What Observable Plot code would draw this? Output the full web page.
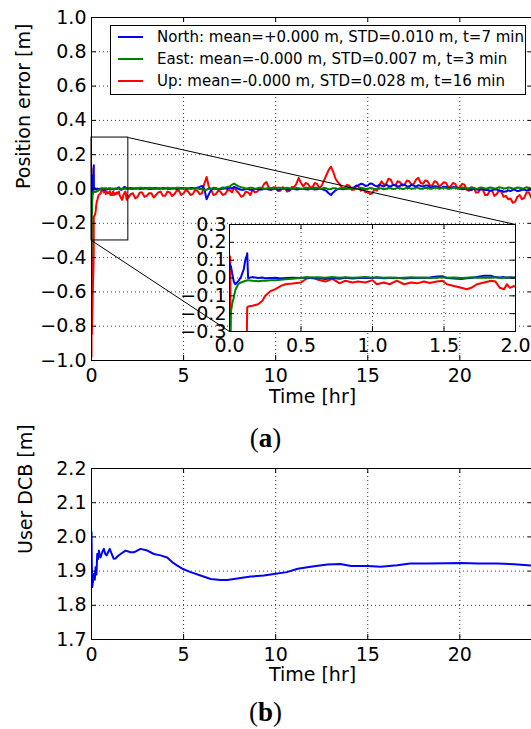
<!DOCTYPE html>
<html><head><meta charset="utf-8">
<script src="https://cdn.jsdelivr.net/npm/d3@7"></script>
<script src="https://cdn.jsdelivr.net/npm/@observablehq/plot@0.6"></script>
<style>
html,body{margin:0;padding:0;background:#fff;overflow:hidden;}
#root{position:relative;width:531px;height:729px;overflow:hidden;background:#fff;font-family:"DejaVu Sans",sans-serif;}
.abs{position:absolute;}
.abs svg{max-width:none !important;}
</style></head><body><div id="root"></div>
<script>
// ---------------- DATA ----------------
// Time [hr] shared by North / East / Up (fine near start, 0.125 hr afterwards)
const times = [
  0, 0.005, 0.01, 0.02, 0.03, 0.04, 0.06, 0.08, 0.10, 0.11,
  0.12, 0.124, 0.13, 0.16, 0.2, 0.23, 0.25, 0.29, 0.32, 0.36,
  0.39, 0.44, 0.5, 0.54, 0.58, 0.62, 0.67, 0.72, 0.77, 0.81,
  0.86, 0.9, 0.95, 1.0, 1.03, 1.08, 1.12, 1.17, 1.22, 1.27,
  1.31, 1.36, 1.4, 1.45, 1.49, 1.52, 1.57, 1.62, 1.66, 1.69,
  1.73, 1.78, 1.83, 1.86, 1.89, 1.92, 1.94, 1.96, 1.99,
  2.0, 2.125, 2.25, 2.375, 2.5, 2.625, 2.75, 2.875, 3.0, 3.125, 3.25, 3.375, 3.5, 3.625, 3.75, 3.875,
  4.0, 4.125, 4.25, 4.375, 4.5, 4.625, 4.75, 4.875, 5.0, 5.125, 5.25, 5.375, 5.5, 5.625, 5.75, 5.875,
  6.0, 6.125, 6.25, 6.375, 6.5, 6.625, 6.75, 6.875, 7.0, 7.125, 7.25, 7.375, 7.5, 7.625, 7.75, 7.875,
  8.0, 8.125, 8.25, 8.375, 8.5, 8.625, 8.75, 8.875, 9.0, 9.125, 9.25, 9.375, 9.5, 9.625, 9.75, 9.875,
  10.0, 10.125, 10.25, 10.375, 10.5, 10.625, 10.75, 10.875, 11.0, 11.125, 11.25, 11.375, 11.5, 11.625, 11.75, 11.875,
  12.0, 12.125, 12.25, 12.375, 12.5, 12.625, 12.75, 12.875, 13.0, 13.125, 13.25, 13.375, 13.5, 13.625, 13.75, 13.875,
  14.0, 14.125, 14.25, 14.375, 14.5, 14.625, 14.75, 14.875, 15.0, 15.125, 15.25, 15.375, 15.5, 15.625, 15.75, 15.875,
  16.0, 16.125, 16.25, 16.375, 16.5, 16.625, 16.75, 16.875, 17.0, 17.125, 17.25, 17.375, 17.5, 17.625, 17.75, 17.875,
  18.0, 18.125, 18.25, 18.375, 18.5, 18.625, 18.75, 18.875, 19.0, 19.125, 19.25, 19.375, 19.5, 19.625, 19.75, 19.875,
  20.0, 20.125, 20.25, 20.375, 20.5, 20.625, 20.75, 20.875, 21.0, 21.125, 21.25, 21.375, 21.5, 21.625, 21.75, 21.875,
  22.0, 22.125, 22.25, 22.375, 22.5, 22.625, 22.75, 22.875, 23.0, 23.125, 23.25, 23.375, 23.5, 23.625, 23.75, 23.875,
  24.0
];
// North position error [m]
const north = [
  0.08, 0.07, 0.065, 0.02, -0.02, -0.035, -0.02, 0.005, 0.05, 0.1,
  0.125, 0.139, 0.0, 0.005, 0.0, 0.003, -0.002, 0.0, 0.002, -0.003,
  0.0, 0.002, 0.0, 0.003, -0.002, 0.0, -0.005, 0.0, -0.004, 0.002,
  -0.003, 0.0, 0.002, 0.0, 0.003, -0.002, 0.0, 0.002, -0.003, 0.0,
  0.002, 0.0, 0.003, 0.008, 0.01, 0.0, -0.003, -0.005, -0.002, 0.0,
  0.005, 0.012, 0.012, 0.005, 0.003, 0.005, 0.0, 0.004, 0.002,
  0.003, 0.006, 0.0, 0.004, 0.005, 0.0, 0.001, 0.006, 0.004, 0.0, 0.0, 0.005, 0.006, 0.001, 0.002, 0.006,
  0.005, 0.001, 0.0, 0.005, 0.004, 0.0, 0.001, 0.006, 0.005, 0.001, 0.002, 0.006, 0.006, 0.003, 0.008, 0.012,
  0.018, 0.0, -0.06, -0.03, -0.005, 0.002, 0.003, -0.002, -0.002, 0.003, 0.004, 0.0, 0.008, 0.004, 0.012, 0.006,
  0.0, -0.004, -0.005, 0.001, 0.0, -0.005, -0.004, 0.0, 0.001, -0.004, -0.003, 0.001, 0.002, -0.003, -0.004, 0.0,
  0.0, -0.004, -0.003, 0.001, 0.001, -0.003, -0.004, 0.0, 0.0, -0.003, -0.002, 0.002, 0.002, -0.002, -0.003, 0.001,
  0.001, -0.003, -0.002, 0.002, 0.0, -0.005, -0.01, -0.025, -0.035, -0.02, -0.008, 0.0, 0.003, -0.002, 0.0, 0.004,
  0.006, 0.002, 0.01, 0.018, 0.022, 0.03, 0.028, 0.018, 0.02, 0.032, 0.03, 0.02, 0.015, 0.025, 0.02, 0.014,
  0.025, 0.018, 0.015, 0.024, 0.022, 0.014, 0.018, 0.026, 0.025, 0.016, 0.015, 0.024, 0.02, 0.014, 0.022, 0.018,
  0.015, 0.02, 0.02, 0.012, 0.01, 0.016, 0.014, 0.007, 0.008, 0.013, 0.012, 0.005, 0.006, 0.011, 0.01, 0.004,
  0.003, -0.002, 0.0, 0.003, -0.003, -0.006, 0.002, -0.002, -0.005, -0.001, 0.0, -0.006, -0.004, -0.01, -0.008, -0.002,
  -0.003, -0.008, -0.01, -0.016, -0.015, -0.008, -0.012, -0.005, -0.005, -0.012, -0.01, -0.004, -0.003, -0.009, -0.008, -0.002,
  -0.004
];
// East position error [m]
const east = [
  -0.4, -0.3, -0.19, -0.14, -0.11, -0.07, -0.035, -0.025, -0.02, -0.015,
  -0.015, -0.012, -0.012, -0.015, -0.018, -0.015, -0.016, -0.012, -0.013, -0.01,
  -0.007, -0.004, 0.0, 0.004, 0.003, 0.004, 0.002, 0.005, 0.002, 0.004,
  0.001, 0.003, 0.005, 0.002, 0.004, 0.001, 0.003, 0.0, 0.002, 0.004,
  0.001, 0.003, 0.0, 0.002, 0.004, 0.002, 0.003, 0.0, 0.002, 0.004,
  0.001, 0.003, 0.002, 0.004, 0.0, 0.002, 0.004, 0.002, 0.003,
  0.003, 0.0, 0.006, 0.001, 0.002, 0.007, 0.007, 0.001, 0.003, 0.007, 0.006, 0.0, 0.001, 0.006, 0.005, 0.0,
  0.002, 0.007, 0.006, 0.001, 0.003, 0.008, 0.007, 0.002, 0.002, 0.006, 0.005, 0.0, 0.001, 0.005, 0.004, 0.0,
  0.0, -0.006, -0.005, 0.003, 0.002, 0.007, 0.006, 0.0, 0.003, 0.009, 0.008, 0.012, 0.015, 0.025, 0.032, 0.022,
  0.015, 0.01, 0.008, 0.002, 0.004, 0.008, 0.007, 0.001, 0.003, 0.008, 0.006, 0.0, 0.002, 0.007, 0.006, 0.001,
  0.003, 0.008, 0.007, 0.001, 0.002, 0.007, 0.005, 0.0, 0.001, 0.006, 0.005, 0.0, 0.002, 0.007, 0.006, 0.001,
  0.003, 0.008, 0.007, 0.0, 0.002, 0.006, 0.004, -0.001, 0.0, 0.005, 0.004, 0.0, 0.001, 0.006, 0.005, 0.0,
  0.002, 0.007, 0.006, 0.001, 0.003, 0.007, 0.005, 0.0, 0.001, 0.006, 0.004, -0.001, 0.0, 0.005, 0.003, -0.001,
  0.001, 0.006, 0.004, 0.0, 0.002, 0.007, 0.005, 0.0, 0.002, 0.007, 0.006, 0.001, 0.003, 0.008, 0.005, 0.001,
  0.002, 0.007, 0.006, 0.001, 0.003, 0.008, 0.007, 0.002, 0.004, 0.008, 0.006, 0.001, 0.003, 0.008, 0.007, 0.002,
  0.004, 0.009, 0.008, 0.002, 0.004, 0.009, 0.007, 0.002, 0.003, 0.009, 0.007, 0.002, 0.004, 0.009, 0.008, 0.003,
  0.005, 0.01, 0.008, 0.003, 0.004, 0.009, 0.007, 0.002, 0.004, 0.009, 0.008, 0.003, 0.005, 0.01, 0.007, 0.002,
  0.004
];
// Up position error [m]
const up = [
  -0.98, 0.12, -0.6, -0.85, -0.8, -0.75, -0.65, -0.55, -0.48, -0.42,
  -0.38, -0.165, -0.16, -0.156, -0.147, -0.128, -0.10, -0.072, -0.063, -0.044,
  -0.035, -0.031, -0.025, -0.003, 0.003, -0.01, -0.02, -0.005, -0.03, -0.015,
  -0.025, -0.02, -0.025, -0.012, -0.035, -0.025, -0.035, -0.015, -0.035, -0.025,
  -0.03, -0.02, -0.028, -0.02, -0.015, -0.035, -0.045, -0.055, -0.063, -0.055,
  -0.035, -0.025, -0.015, -0.02, -0.055, -0.063, -0.035, -0.055, -0.045,
  -0.05, -0.03, -0.025, -0.055, -0.045, -0.02, -0.02, -0.045, -0.04, -0.025, -0.025, -0.05, -0.035, -0.02, -0.015, -0.04,
  -0.04, -0.015, -0.02, -0.04, -0.03, -0.01, -0.01, -0.035, -0.025, -0.005, -0.015, -0.035, -0.03, -0.005, -0.01, -0.03,
  -0.025, 0.03, 0.07, 0.01, -0.005, -0.035, -0.03, -0.01, -0.015, -0.035, -0.03, -0.01, -0.005, -0.02, 0.01, -0.01,
  -0.025, -0.045, -0.04, -0.015, -0.02, -0.035, -0.005, -0.02, -0.015, 0.005, 0.005, 0.03, 0.04, 0.01, -0.005, 0.01,
  0.01, -0.012, -0.01, 0.01, 0.005, -0.015, -0.01, 0.012, 0.01, 0.03, 0.065, 0.035, 0.015, 0.035, 0.03, 0.01,
  0.01, 0.035, 0.03, 0.005, 0.02, 0.05, 0.08, 0.11, 0.13, 0.1, 0.06, 0.04, 0.025, 0.005, 0.005, 0.025,
  0.02, -0.005, -0.005, 0.02, 0.015, -0.01, 0.0, -0.02, -0.015, -0.03, -0.025, 0.0, -0.01, 0.02, 0.045, 0.025,
  0.03, 0.06, 0.055, 0.025, 0.02, 0.045, 0.04, 0.02, 0.025, 0.05, 0.045, 0.025, 0.03, 0.055, 0.065, 0.035,
  0.03, 0.05, 0.045, 0.02, 0.02, 0.045, 0.04, 0.015, 0.025, 0.04, 0.035, 0.01, 0.015, 0.035, 0.03, 0.005,
  0.01, 0.03, 0.025, -0.005, -0.01, 0.01, 0.005, -0.02, -0.02, 0.0, -0.005, -0.035, -0.035, -0.01, -0.01, -0.04,
  -0.03, -0.01, -0.015, -0.045, -0.04, -0.06, -0.055, -0.08, -0.075, -0.045, -0.035, -0.06, -0.05, -0.02, -0.02, -0.05,
  -0.04
];
// User DCB [m] : [time hr, value]
const dcb = [
  [0, 2.014], [0.02, 1.9], [0.04, 1.853], [0.08, 1.87], [0.13, 1.892], [0.18, 1.875],
  [0.22, 1.911], [0.27, 1.89], [0.31, 1.95], [0.36, 1.935], [0.4, 1.96], [0.45, 1.945],
  [0.49, 1.94], [0.58, 1.955], [0.67, 1.965], [0.75, 1.95], [0.82, 1.946], [0.9, 1.955],
  [0.99, 1.965], [1.1, 1.95], [1.21, 1.936], [1.3, 1.937], [1.45, 1.945], [1.58, 1.95],
  [1.85, 1.96], [2.12, 1.955], [2.3, 1.955], [2.66, 1.965], [3.03, 1.96], [3.39, 1.95],
  [3.75, 1.946], [4.11, 1.94], [4.39, 1.926], [4.66, 1.916], [4.93, 1.907], [5.38, 1.897],
  [5.92, 1.887], [6.47, 1.877], [7.0, 1.874], [7.37, 1.874], [8.1, 1.88], [8.64, 1.884],
  [9.36, 1.887], [10.0, 1.892], [10.6, 1.897], [11.2, 1.907], [11.9, 1.913], [12.8, 1.919],
  [13.5, 1.921], [14.1, 1.915], [15.0, 1.915], [15.7, 1.913], [16.6, 1.917], [17.3, 1.922],
  [18.2, 1.922], [19.3, 1.923], [20.05, 1.924], [21.0, 1.922], [22.0, 1.922], [22.95, 1.92],
  [24.0, 1.916]
];
// axes / ticks
const xDomain = [0, 24];
const xTicks = [0, 5, 10, 15, 20];
const aYDomain = [-1.0, 1.0];
const aYTicks = [-1.0, -0.8, -0.6, -0.4, -0.2, 0.0, 0.2, 0.4, 0.6, 0.8, 1.0];
const insetXDomain = [0.0, 2.0];
const insetXTicks = [0.0, 0.5, 1.0, 1.5, 2.0];
const insetYDomain = [-0.3, 0.3];
const insetYTicks = [-0.3, -0.2, -0.1, 0.0, 0.1, 0.2, 0.3];
const bYDomain = [1.7, 2.2];
const bYTicks = [1.7, 1.8, 1.9, 2.0, 2.1, 2.2];
// legend
const seriesNames = ["North", "East", "Up"];
const seriesMeans = ["+0.000", "-0.000", "-0.000"];
const seriesStd = ["0.010", "0.007", "0.028"];
const seriesConv = [7, 3, 16];
const labels = {aY: "Position error [m]", x: "Time [hr]", bY: "User DCB [m]", a: "a", b: "b"};

// ---------------- RENDER ----------------
const root = document.getElementById("root");
const COLORS = ["#0000ff", "#008000", "#ff0000"];
const fmt1 = d3.format(".1f");
const FS = 19;
const baseStyle = {fontFamily: "DejaVu Sans", fontSize: FS + "px", color: "black", background: "transparent", overflow: "visible", maxWidth: "none"};
const grid = {stroke: "#000", strokeOpacity: 0.75, strokeWidth: 1, strokeDasharray: "1,3"};

const n = Math.min(times.length, north.length, east.length, up.length);
const rows = d3.range(n).map(i => ({t: times[i], n: north[i], e: east[i], u: up[i]}));

function place(svg, left, top) {
  const d = document.createElement("div");
  d.className = "abs";
  d.style.left = left + "px"; d.style.top = top + "px";
  d.appendChild(svg);
  root.appendChild(d);
}
function inwardTicks(xt, yt, plotW, plotH) {
  return [
    Plot.ruleX(xt, {x: d => d, insetTop: plotH - 5, stroke: "black"}),
    Plot.ruleX(xt, {x: d => d, insetBottom: plotH - 5, stroke: "black"}),
    Plot.ruleY(yt, {y: d => d, insetRight: plotW - 5, stroke: "black"}),
    Plot.ruleY(yt, {y: d => d, insetLeft: plotW - 5, stroke: "black"})
  ];
}

// ---- Panel (a) main ----
const W = 535;
const A = {top: 0, height: 405, mL: 91, mR: 2, mT: 17, mB: 45};
const aW = W - A.mL - A.mR, aH = A.height - A.mT - A.mB;
// inset layout (page pixels)
const I = {left: 150, top: 200, width: 380, height: 156, mL: 79, mR: 15, mT: 24, mB: 25};
const iW = I.width - I.mL - I.mR, iH = I.height - I.mT - I.mB;
const axScale = d3.scaleLinear().domain(xDomain).range([A.mL, W - A.mR]);
const ayScale = d3.scaleLinear().domain(aYDomain).range([A.top + A.height - A.mB, A.top + A.mT]);
const insetCorner = {
  left: I.left + I.mL, right: I.left + I.width - I.mR,
  top: I.top + I.mT, bottom: I.top + I.height - I.mB
};
const zoomBox = [{x1: insetXDomain[0], x2: insetXDomain[1], y1: insetYDomain[0], y2: insetYDomain[1]}];
const connectors = [
  {x1: insetXDomain[1], y1: insetYDomain[1], x2: axScale.invert(insetCorner.right), y2: ayScale.invert(insetCorner.top)},
  {x1: insetXDomain[0], y1: insetYDomain[0], x2: axScale.invert(insetCorner.left), y2: ayScale.invert(insetCorner.bottom)}
];

const seriesKeys = ["u", "n", "e"];
const seriesCol = {n: COLORS[0], e: COLORS[1], u: COLORS[2]};

const mainPlot = Plot.plot({
  width: W, height: A.height,
  marginLeft: A.mL, marginRight: A.mR, marginTop: A.mT, marginBottom: A.mB,
  style: baseStyle,
  x: {domain: xDomain},
  y: {domain: aYDomain},
  marks: [
    Plot.gridX(xTicks, grid),
    Plot.gridY(aYTicks, grid),
    ...seriesKeys.map(k => Plot.line(rows, {x: "t", y: k, stroke: seriesCol[k], strokeWidth: 2, clip: true})),
    Plot.rect(zoomBox, {x1: "x1", x2: "x2", y1: "y1", y2: "y2", fill: "none", stroke: "black", strokeWidth: 1}),
    Plot.link(connectors, {x1: "x1", y1: "y1", x2: "x2", y2: "y2", stroke: "black", strokeWidth: 1}),
    Plot.frame({stroke: "black"}),
    ...inwardTicks(xTicks, aYTicks, aW, aH),
    Plot.axisX({ticks: xTicks, tickSize: 0, tickPadding: 8, tickFormat: d => String(d), label: null}),
    Plot.axisY({ticks: aYTicks, tickSize: 0, tickPadding: 5, tickFormat: fmt1, label: null}),
    Plot.text([labels.x], {text: d => d, frameAnchor: "bottom", dy: 36, lineAnchor: "middle"}),
    Plot.text([labels.aY], {text: d => d, frameAnchor: "left", rotate: -90, dx: -68, lineAnchor: "middle"})
  ]
});
place(mainPlot, 0, A.top);

// ---- Inset ----
const insetRows = rows.filter(r => r.t <= insetXDomain[1] + 0.13);
const insetPlot = Plot.plot({
  width: I.width, height: I.height,
  marginLeft: I.mL, marginRight: I.mR, marginTop: I.mT, marginBottom: I.mB,
  style: baseStyle,
  x: {domain: insetXDomain},
  y: {domain: insetYDomain},
  marks: [
    Plot.frame({fill: "white", stroke: null}),
    Plot.gridX(insetXTicks, grid),
    Plot.gridY(insetYTicks, grid),
    ...seriesKeys.map(k => Plot.line(insetRows, {x: "t", y: k, stroke: seriesCol[k], strokeWidth: 2, clip: true})),
    Plot.frame({stroke: "black"}),
    ...inwardTicks(insetXTicks, insetYTicks, iW, iH),
    Plot.axisX({ticks: insetXTicks, tickSize: 0, tickPadding: 7, tickFormat: fmt1, label: null}),
    Plot.axisY({ticks: insetYTicks, tickSize: 0, tickPadding: 3, tickFormat: fmt1, label: null})
  ]
});
place(insetPlot, I.left, I.top);

// ---- Legend ----
const leg = document.createElement("div");
leg.className = "abs";
Object.assign(leg.style, {left: "110px", top: "25px", width: "416px", height: "70px", boxSizing: "border-box",
  border: "1px solid #000", background: "#fff", fontFamily: "DejaVu Sans", fontSize: "15px", color: "#000"});
seriesNames.forEach((name, i) => {
  const cy = 11 + i * 22;
  const ln = document.createElement("div");
  Object.assign(ln.style, {position: "absolute", left: "7px", top: (cy - 1) + "px", width: "25px", height: "2px", background: COLORS[i]});
  const tx = document.createElement("div");
  Object.assign(tx.style, {position: "absolute", left: "46px", top: (cy - 9) + "px", lineHeight: "18px", whiteSpace: "pre"});
  tx.textContent = `${name}: mean=${seriesMeans[i]} m, STD=${seriesStd[i]} m, t=${seriesConv[i]} min`;
  leg.appendChild(ln); leg.appendChild(tx);
});
root.appendChild(leg);

// ---- Panel (b) ----
const B = {top: 440, height: 260, mL: 91, mR: 2, mT: 28, mB: 61};
const bW = W - B.mL - B.mR, bH = B.height - B.mT - B.mB;
const bPlot = Plot.plot({
  width: W, height: B.height,
  marginLeft: B.mL, marginRight: B.mR, marginTop: B.mT, marginBottom: B.mB,
  style: baseStyle,
  x: {domain: xDomain},
  y: {domain: bYDomain},
  marks: [
    Plot.gridX(xTicks, grid),
    Plot.gridY(bYTicks, grid),
    Plot.line(dcb, {x: d => d[0], y: d => d[1], stroke: COLORS[0], strokeWidth: 2, clip: true}),
    Plot.frame({stroke: "black"}),
    ...inwardTicks(xTicks, bYTicks, bW, bH),
    Plot.axisX({ticks: xTicks, tickSize: 0, tickPadding: 8, tickFormat: d => String(d), label: null}),
    Plot.axisY({ticks: bYTicks, tickSize: 0, tickPadding: 5, tickFormat: fmt1, label: null}),
    Plot.text([labels.x], {text: d => d, frameAnchor: "bottom", dy: 35, lineAnchor: "middle"}),
    Plot.text([labels.bY], {text: d => d, frameAnchor: "left", rotate: -90, dx: -66, lineAnchor: "middle"})
  ]
});
place(bPlot, 0, B.top);

// ---- Captions ----
[[labels.a, 423], [labels.b, 697]].forEach(([s, top]) => {
  const c = document.createElement("div");
  c.className = "abs";
  Object.assign(c.style, {left: "0px", width: "531px", top: top + "px", textAlign: "center",
    fontFamily: "Liberation Serif", fontSize: "27px", lineHeight: "30px", color: "#000"});
  c.innerHTML = `(<b>${s}</b>)`;
  root.appendChild(c);
});
</script></body></html>
